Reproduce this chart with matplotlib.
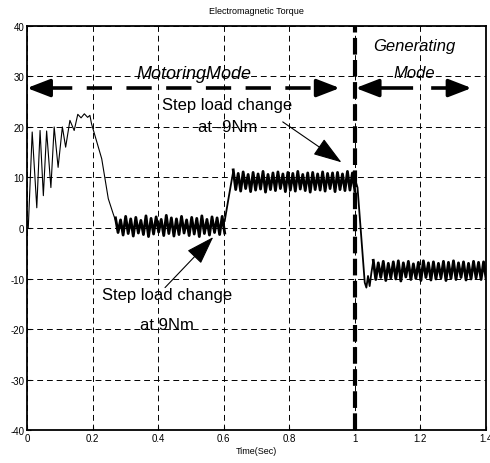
import numpy as np
import matplotlib.pyplot as plt

plt.rcParams['axes.unicode_minus'] = False

# start-up transient (time in s, torque in Nm)
t_start = [0.0, 0.004, 0.016, 0.030, 0.040, 0.050, 0.060, 0.073, 0.083, 0.095, 0.108,
           0.118, 0.131, 0.144, 0.155, 0.165, 0.175, 0.185, 0.192, 0.197, 0.228, 0.248,
           0.263, 0.270]
te_start = [0.0, 0.0, 19.0, 4.0, 19.3, 6.4, 19.2, 8.0, 20.0, 12.0, 20.0,
            16.0, 21.3, 19.3, 22.5, 21.8, 22.6, 21.9, 22.3, 20.6, 13.7, 5.8,
            2.8, 1.5]

# steady state ripple: tooth tips
band1_span = (0.270, 0.603)
band1_peaks = [2.0, 1.6, 2.3, 1.8, 2.1, 1.5, 2.4, 1.9, 2.2, 1.7, 2.5, 2.0, 1.8, 2.3,
               1.6, 2.1, 1.9, 2.4, 1.7, 2.2, 2.0, 2.3]
band1_troughs = [-0.9, -1.4, -1.1, -1.6, -1.0, -1.3, -1.7, -1.2, -0.8, -1.5, -1.1, -1.6,
                 -1.3, -1.0, -1.5, -1.2, -1.7, -1.1, -1.4, -0.9, -1.3, -1.0]

t_rise = [0.603, 0.615, 0.629]
te_rise = [1.4, 6.0, 11.2]

band2_span = (0.629, 1.000)
band2_peaks = [11.5, 10.8, 11.1, 10.6, 11.0, 10.7, 11.2, 10.6, 10.9, 11.1, 10.7, 11.0,
               10.8, 11.2, 10.6, 10.9, 11.0, 10.7, 11.1, 10.8, 10.9, 11.0, 10.7, 11.2, 10.9]
band2_troughs = [7.6, 7.3, 7.8, 7.2, 7.5, 7.7, 7.1, 7.6, 7.4, 7.8, 7.2, 7.5,
                 7.3, 7.7, 7.4, 7.1, 7.6, 7.5, 7.3, 7.8, 7.2, 7.6, 7.4, 7.5, 7.3]

t_drop = [1.000, 1.008, 1.030, 1.035, 1.040, 1.045, 1.050, 1.056]
te_drop = [9.7, 8.0, -10.8, -11.8, -9.5, -11.5, -9.0, -6.5]

band3_span = (1.056, 1.400)
band3_peaks = [-6.4, -6.9, -6.6, -7.0, -6.7, -6.5, -6.9, -6.6, -7.1, -6.8, -6.5,
               -6.9, -6.7, -7.0, -6.6, -6.8, -6.5, -6.9, -6.7, -7.0, -6.6, -6.8, -6.7]
band3_troughs = [-10.2, -9.8, -10.4, -9.9, -10.1, -10.5, -9.7, -10.2, -10.0, -10.4, -9.8,
                 -10.3, -10.1, -9.9, -10.4, -10.0, -10.2, -9.8, -10.3, -10.1, -9.9, -10.2, -10.0]


def ripple(span, peaks, troughs):
    # zigzag between the tooth tips, evenly spaced over the span
    t = np.linspace(span[0], span[1], 2 * len(peaks))
    v = np.empty(2 * len(peaks))
    v[0::2] = peaks
    v[1::2] = troughs
    return t, v


fig = plt.figure(figsize=(4.9, 4.64), dpi=100)
ax = fig.add_axes([0.055, 0.071, 0.937, 0.871])

ax.plot(t_start, te_start, color='k', lw=0.8)
t1, v1 = ripple(band1_span, band1_peaks, band1_troughs)
ax.plot(t1, v1, color='k', lw=2.0)
ax.plot(t_rise, te_rise, color='k', lw=1.3)
t2, v2 = ripple(band2_span, band2_peaks, band2_troughs)
ax.plot(t2, v2, color='k', lw=2.0)
ax.plot(t_drop, te_drop, color='k', lw=1.3)
t3, v3 = ripple(band3_span, band3_peaks, band3_troughs)
ax.plot(t3, v3, color='k', lw=2.0)

ax.set_xlim(0, 1.4)
ax.set_ylim(-40, 40)
ax.set_xticks([0, 0.2, 0.4, 0.6, 0.8, 1, 1.2, 1.4])
ax.set_xticklabels(['0', '0.2', '0.4', '0.6', '0.8', '1', '1.2', '1.4'])
ax.set_yticks(range(-40, 41, 10))
ax.grid(True, color='k', linestyle=(0, (6, 4)), lw=0.7)
ax.tick_params(direction='in', length=3, labelsize=7, pad=2)
for lab in ax.get_xticklabels() + ax.get_yticklabels():
    lab.set_family('Liberation Sans')
for s in ax.spines.values():
    s.set_linewidth(1.3)

ax.set_title('Electromagnetic Torque', fontsize=6.5, family='Liberation Sans', pad=9)
ax.set_xlabel('Time(Sec)', fontsize=6.5, family='Liberation Sans', labelpad=2)

# mode boundary
ax.axvline(1.0, color='k', lw=3, dashes=(4, 1.3))

# mode arrows
ya = 27.7
head = dict(arrowstyle='-|>,head_length=0.7,head_width=0.27', color='k', lw=2.5,
            mutation_scale=20, shrinkA=0, shrinkB=0)
ax.plot([0.06, 0.887], [ya, ya], color='k', lw=2.6, dashes=(7, 4))
ax.annotate('', xy=(0.0, ya), xytext=(0.06, ya), arrowprops=head)
ax.annotate('', xy=(0.954, ya), xytext=(0.887, ya), arrowprops=head)
ax.plot([1.066, 1.285], [ya, ya], color='k', lw=2.6, dashes=(10, 5))
ax.annotate('', xy=(1.002, ya), xytext=(1.066, ya), arrowprops=head)
ax.annotate('', xy=(1.356, ya), xytext=(1.285, ya), arrowprops=head)

big = dict(family='Liberation Sans', ha='center', va='center')
ax.text(0.509, 30.5, 'MotoringMode', fontsize=13, style='italic', **big)
ax.text(1.18, 36.1, 'Generating', fontsize=12, style='italic', **big)
ax.text(1.18, 30.7, 'Mode', fontsize=12, style='italic', **big)

ax.text(0.611, 24.4, 'Step load change', fontsize=12, **big)
ax.text(0.611, 20.0, 'at -9Nm', fontsize=12, **big)
ax.text(0.427, -13.2, 'Step load change', fontsize=12, **big)
ax.text(0.427, -19.2, 'at 9Nm', fontsize=12, **big)

pointer = dict(arrowstyle='-|>,head_length=0.9,head_width=0.3', color='k', lw=0.8,
               mutation_scale=20, shrinkA=0, shrinkB=0)
ax.annotate('', xy=(0.959, 13.0), xytext=(0.780, 21.0), arrowprops=pointer)
ax.annotate('', xy=(0.568, -1.8), xytext=(0.421, -11.8), arrowprops=pointer)

fig.savefig('out.png', dpi=100)
